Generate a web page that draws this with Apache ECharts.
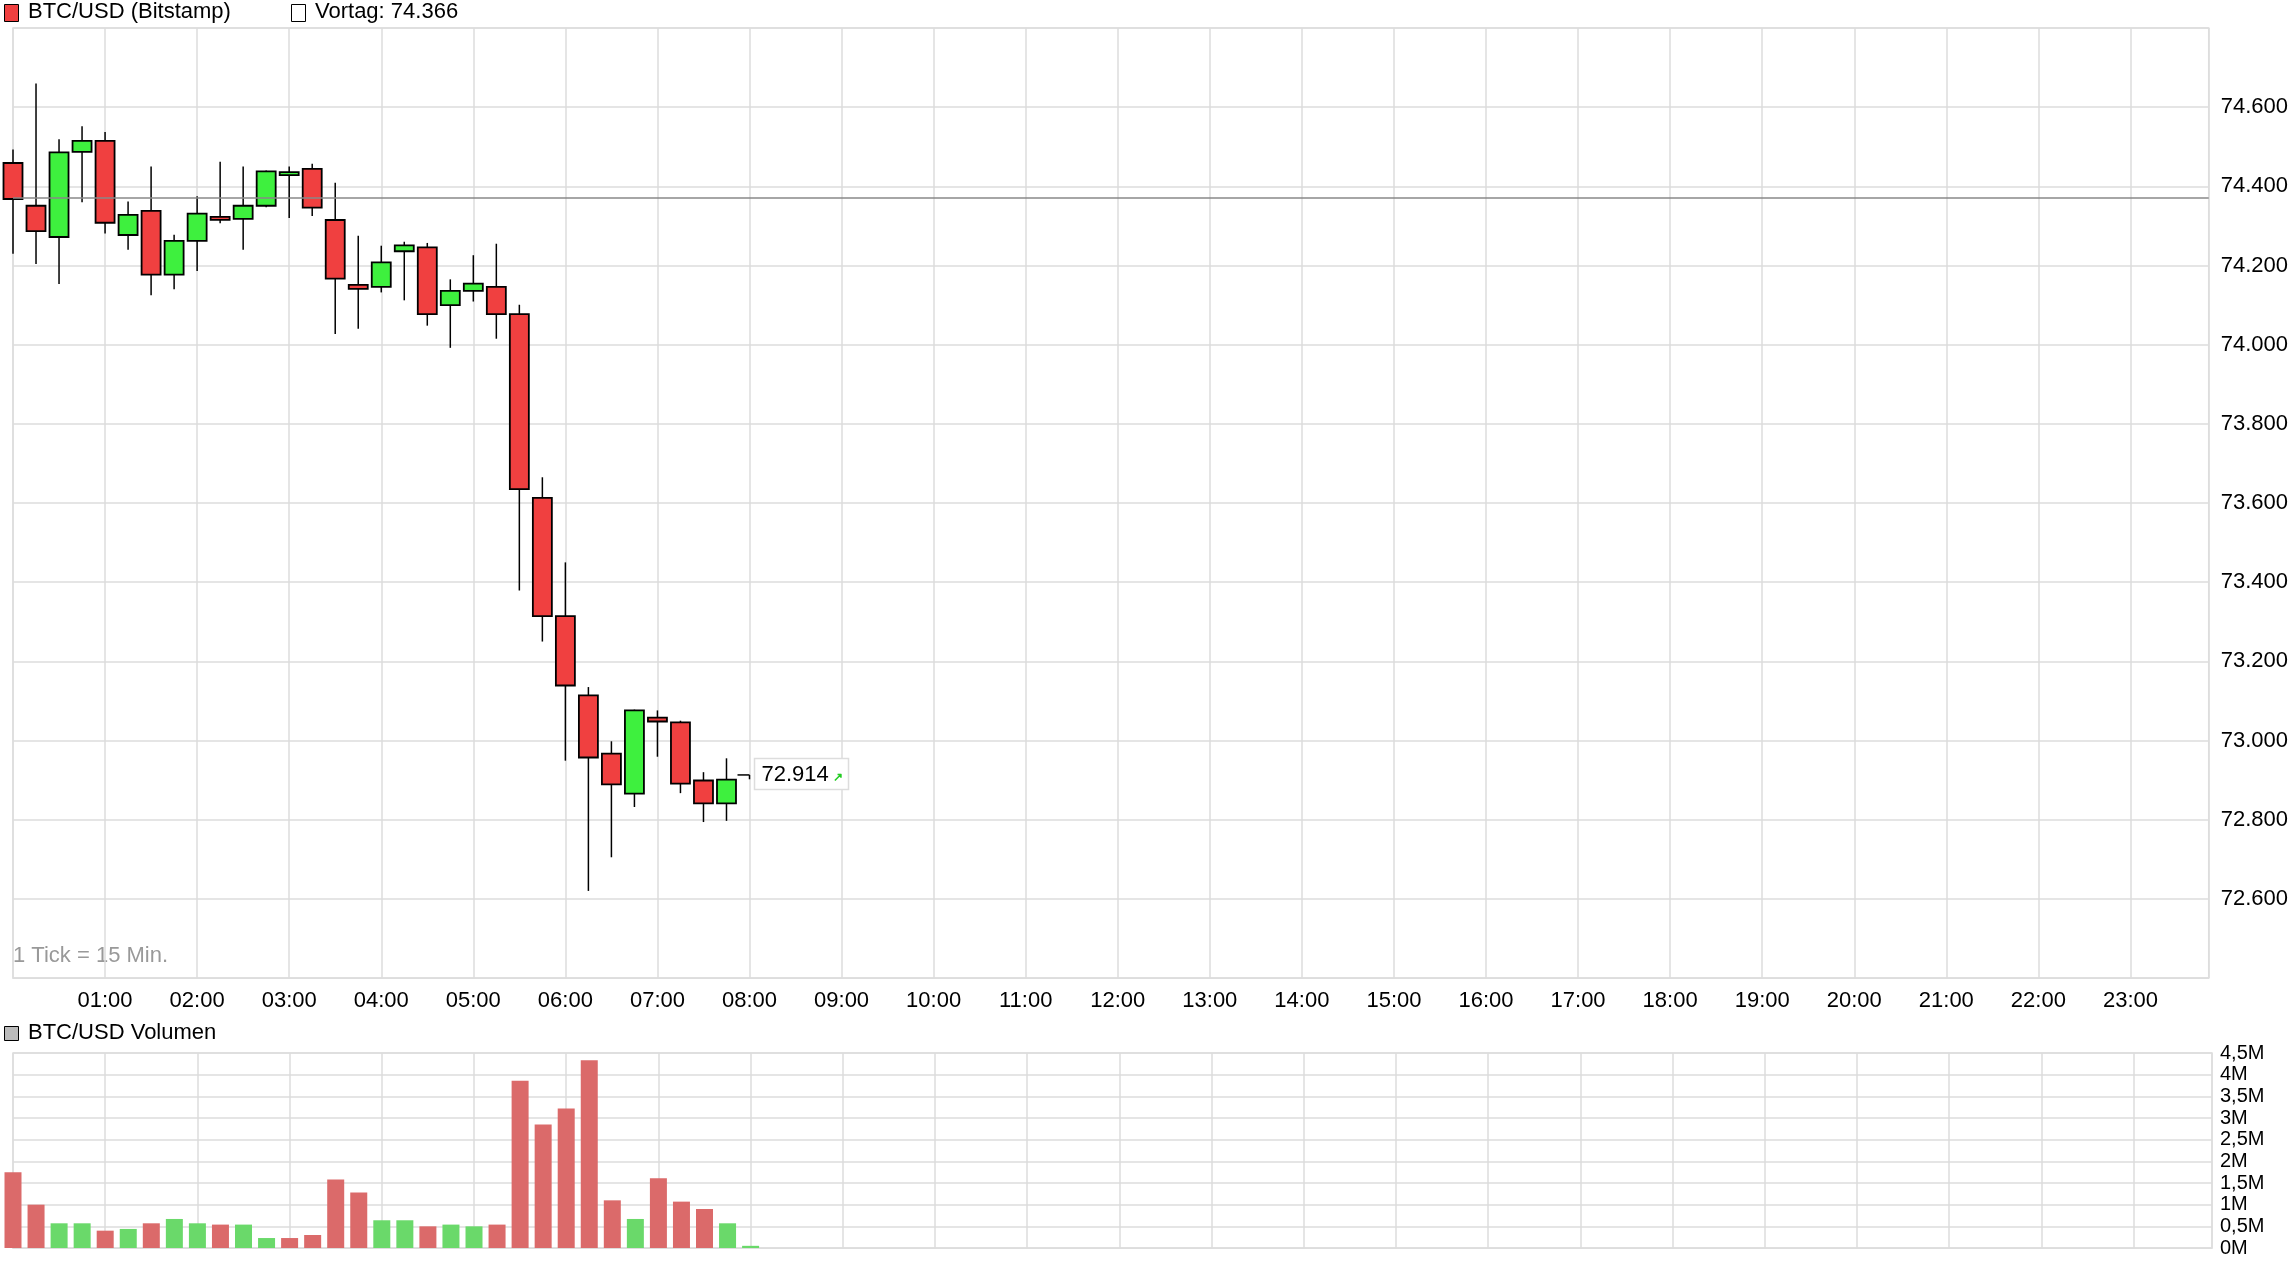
<!DOCTYPE html>
<html><head><meta charset="utf-8">
<script src="https://cdn.jsdelivr.net/npm/echarts@6/dist/echarts.min.js"></script>
<style>html,body{margin:0;padding:0;background:#fff}#c{width:2291px;height:1272px}</style>
</head><body><div id="c"></div>
<script>
// time in hours (15-min ticks)
const hours = [0,0.25,0.5,0.75,1,1.25,1.5,1.75,2,2.25,2.5,2.75,3,3.25,3.5,3.75,4,4.25,4.5,4.75,5,5.25,5.5,5.75,6,6.25,6.5,6.75,7,7.25,7.5,7.75,8];
const opens  = [74.459,74.351,74.272,74.487,74.515,74.277,74.338,74.177,74.262,74.323,74.318,74.351,74.431,74.444,74.315,74.151,74.146,74.236,74.246,74.100,74.136,74.146,74.077,73.613,73.314,73.114,72.967,72.866,73.058,73.046,72.899,72.841,72.913];
const closes = [74.368,74.287,74.486,74.515,74.308,74.328,74.177,74.262,74.331,74.318,74.351,74.438,74.436,74.346,74.167,74.141,74.208,74.251,74.077,74.136,74.154,74.077,73.635,73.314,73.139,72.957,72.889,73.076,73.048,72.891,72.841,72.901,72.913];
const lows   = [74.230,74.204,74.153,74.360,74.281,74.240,74.125,74.140,74.186,74.307,74.240,74.347,74.320,74.325,74.027,74.040,74.132,74.112,74.048,73.992,74.109,74.015,73.379,73.250,72.949,72.620,72.705,72.832,72.959,72.867,72.794,72.797,72.902];
const highs  = [74.493,74.660,74.519,74.552,74.537,74.362,74.450,74.278,74.375,74.462,74.450,74.440,74.450,74.457,74.409,74.275,74.250,74.260,74.257,74.165,74.226,74.255,74.101,73.665,73.450,73.135,72.998,73.078,73.076,73.050,72.920,72.955,72.913];
const volumes = [1.75,1.0,0.57,0.57,0.4,0.44,0.57,0.67,0.57,0.54,0.54,0.23,0.23,0.3,1.58,1.28,0.64,0.64,0.5,0.54,0.5,0.54,3.86,2.85,3.22,4.33,1.1,0.67,1.61,1.07,0.9,0.57,0.05];
const volDir = ['r','r','g','g','r','g','r','g','g','r','g','g','r','r','r','r','g','g','r','g','g','r','r','r','r','r','r','g','r','r','r','g','g'];
const prevClose = 74.366;
const lastPrice = 72.914;
const hourLabels = ['01:00','02:00','03:00','04:00','05:00','06:00','07:00','08:00','09:00','10:00','11:00','12:00','13:00','14:00','15:00','16:00','17:00','18:00','19:00','20:00','21:00','22:00','23:00'];

const FONT = '"Liberation Sans", Arial, sans-serif';
const candleData = hours.map((h,i)=>[h,opens[i],closes[i],lows[i],highs[i]]);
const volData = hours.map((h,i)=>[h,volumes[i],volDir[i]==='g'?1:0]);

const chart = echarts.init(document.getElementById('c'));
const xCommon = {
  type:'value', min:0, max:23.85, interval:1,
  axisLine:{show:true,lineStyle:{color:'#ddd'}}, axisTick:{show:false},
  splitLine:{show:true,lineStyle:{color:'#ddd',width:1.5}}
};
chart.setOption({
  animation:false,
  textStyle:{fontFamily:FONT},
  grid:[
    {left:13,right:79,top:28,height:950,show:true,borderColor:'#ddd',borderWidth:1.5},
    {left:13,right:79,top:1053,height:195,show:true,borderColor:'#ddd',borderWidth:1.5}
  ],
  xAxis:[
    Object.assign({gridIndex:0, axisLabel:{show:true,color:'#000',fontSize:22,margin:12,showMinLabel:false,showMaxLabel:false,
      formatter:v=>(v>=1&&v<=23)?hourLabels[v-1]:''}}, xCommon),
    Object.assign({gridIndex:1, axisLabel:{show:false}}, xCommon)
  ],
  yAxis:[
    {gridIndex:0,type:'value',position:'right',min:72.4,max:74.8,interval:0.2,
     axisLine:{show:false},axisTick:{show:false},
     splitLine:{lineStyle:{color:'#ddd',width:1.5}},
     axisLabel:{color:'#000',fontSize:22,margin:12,showMaxLabel:false,showMinLabel:false,formatter:v=>v.toFixed(3)}},
    {gridIndex:1,type:'value',position:'right',min:0,max:4.5,interval:0.5,
     axisLine:{show:false},axisTick:{show:false},
     splitLine:{lineStyle:{color:'#ddd',width:1.5}},
     axisLabel:{color:'#000',fontSize:20,margin:8,formatter:v=>(v===0?'0':String(v).replace('.',','))+'M'}}
  ],
  series:[
    {type:'line',xAxisIndex:0,yAxisIndex:0,data:[],symbol:'none',
     markLine:{silent:true,symbol:'none',label:{show:false},lineStyle:{color:'#888',type:'solid',width:1.5},data:[{yAxis:prevClose}]}},
    {type:'custom',xAxisIndex:0,yAxisIndex:0,data:candleData,clip:false,
     renderItem:function(params,api){
       const x=api.value(0),o=api.value(1),c=api.value(2),l=api.value(3),h=api.value(4);
       const pO=api.coord([x,o]),pC=api.coord([x,c]),pL=api.coord([x,l]),pH=api.coord([x,h]);
       const w=19;
       if(o===c){
         return {type:'group',children:[
           {type:'line',shape:{x1:pO[0]-12,y1:pO[1],x2:pO[0],y2:pO[1]},style:{stroke:'#000',lineWidth:1.5}},
           {type:'line',shape:{x1:pO[0],y1:pO[1],x2:pL[0],y2:pL[1]},style:{stroke:'#000',lineWidth:1.5}}]};
       }
       const top=Math.min(pO[1],pC[1]),bot=Math.max(pO[1],pC[1]);
       return {type:'group',children:[
         {type:'line',shape:{x1:pH[0],y1:pH[1],x2:pL[0],y2:pL[1]},style:{stroke:'#000',lineWidth:1.5}},
         {type:'rect',shape:{x:pO[0]-w/2,y:top,width:w,height:Math.max(bot-top,3)},
          style:{fill:c>o?'#3ef03e':'#f04040',stroke:'#000',lineWidth:1.8}}]};
     }},
    {type:'custom',xAxisIndex:0,yAxisIndex:0,data:[[hours[hours.length-1],lastPrice]],clip:false,
     renderItem:function(params,api){
       const p=api.coord([api.value(0),api.value(1)]);
       return {type:'group',children:[
         {type:'rect',shape:{x:p[0]+5,y:p[1]-16,width:94,height:31},style:{fill:'#fff',stroke:'#ddd',lineWidth:1.5}},
         {type:'text',style:{x:p[0]+12,y:p[1],text:lastPrice.toFixed(3),font:'22px '+FONT,fill:'#000',textVerticalAlign:'middle'}},
         {type:'text',style:{x:p[0]+83,y:p[1]+3,text:'↗',font:'bold 12px '+FONT,fill:'#22cc22',textVerticalAlign:'middle'}}]};
     }},
    {type:'custom',xAxisIndex:1,yAxisIndex:1,data:volData,clip:false,
     renderItem:function(params,api){
       const x=api.value(0),v=api.value(1),g=api.value(2);
       const p1=api.coord([x,v]),p0=api.coord([x,0]);
       return {type:'rect',shape:{x:p1[0]-8.5,y:p1[1],width:17,height:p0[1]-p1[1]},style:{fill:g?'#6ad96a':'#db6a6a'}};
     }}
  ],
  graphic:[
    {type:'rect',left:4,top:4,shape:{width:14,height:17},style:{fill:'#f04040',stroke:'#000',lineWidth:1}},
    {type:'text',left:28,top:1,style:{text:'BTC/USD (Bitstamp)',font:'22px '+FONT,fill:'#000'}},
    {type:'rect',left:291,top:4,shape:{width:14,height:17},style:{fill:'#fff',stroke:'#000',lineWidth:1}},
    {type:'text',left:315,top:1,style:{text:'Vortag: 74.366',font:'22px '+FONT,fill:'#000'}},
    {type:'text',left:13,top:945,style:{text:'1 Tick = 15 Min.',font:'22px '+FONT,fill:'#999'}},
    {type:'rect',left:4,top:1026,shape:{width:14,height:14},style:{fill:'#bbb',stroke:'#000',lineWidth:1}},
    {type:'text',left:28,top:1022,style:{text:'BTC/USD Volumen',font:'22px '+FONT,fill:'#000'}}
  ]
});
</script></body></html>
